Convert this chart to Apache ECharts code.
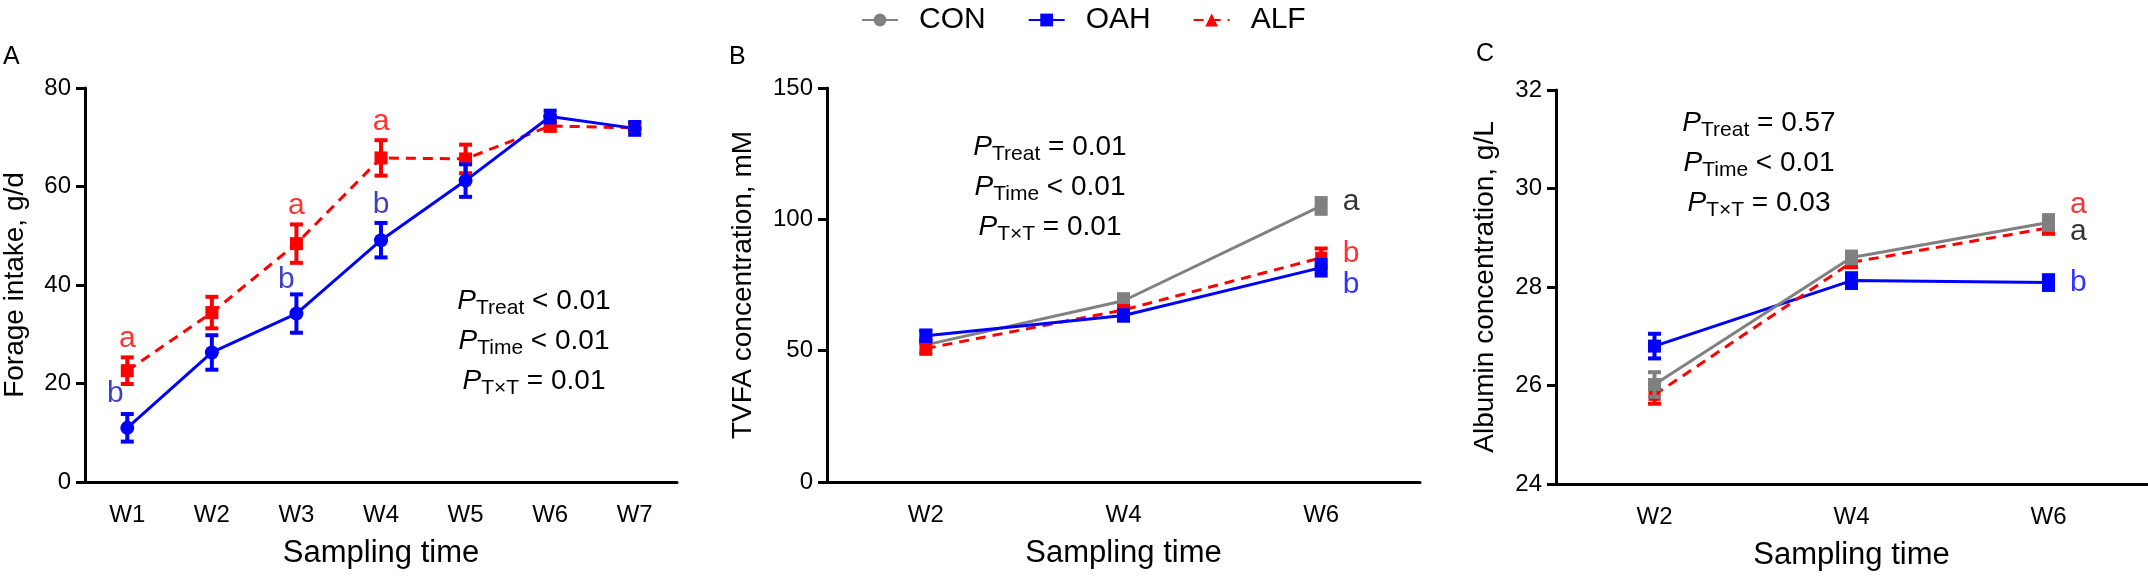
<!DOCTYPE html>
<html>
<head>
<meta charset="utf-8">
<title>Forage intake, TVFA and albumin</title>
<script src="https://cdn.jsdelivr.net/npm/echarts@6/dist/echarts.min.js"></script>
<style>
    html, body { margin: 0; padding: 0; background: #fff; }
    #chart { width: 2148px; height: 576px; }
</style>
</head>
<body>
<div id="chart"></div>
<script>
// panel A - forage intake, g/d
var weeksA = ['W1', 'W2', 'W3', 'W4', 'W5', 'W6', 'W7'];
var oahA = [11.0, 26.3, 34.2, 49.1, 61.2, 74.2, 71.8];
var oahAErr = [2.8, 3.5, 3.9, 3.5, 3.3, 1.2, 1.3];
var alfA = [22.6, 34.4, 48.4, 65.8, 65.6, 72.3, 71.9];
var alfAErr = [2.7, 3.2, 3.9, 3.6, 2.9, 1.0, 1.0];
var oahALetters = ['b', '', 'b', 'b', '', '', ''];
var alfALetters = ['a', '', 'a', 'a', '', '', ''];

// panels B and C share the sampling weeks
var weeksBC = ['W2', 'W4', 'W6'];

// panel B - TVFA concentration, mM
var conB = [52.2, 69.0, 105.1];
var conBErr = [2.5, 2.5, 3.0];
var oahB = [55.7, 63.4, 81.6];
var oahBErr = [2.0, 2.0, 3.0];
var alfB = [50.8, 65.5, 85.4];
var alfBErr = [2.0, 1.5, 3.5];
var conBLetters = ['', '', 'a'];
var oahBLetters = ['', '', 'b'];
var alfBLetters = ['', '', 'b'];

// panel C - albumin concentration, g/L
var conC = [26.02, 28.6, 29.31];
var conCErr = [0.25, 0.12, 0.15];
var oahC = [26.8, 28.13, 28.09];
var oahCErr = [0.25, 0.15, 0.15];
var alfC = [25.81, 28.5, 29.2];
var alfCErr = [0.18, 0.1, 0.12];
var conCLetters = ['', '', 'a'];
var oahCLetters = ['', '', 'b'];
var alfCLetters = ['', '', 'a'];

// P values
var pSubs = ['Treat', 'Time', 'T\u00d7T'];
var pA = ['< 0.01', '< 0.01', '= 0.01'];
var pB = ['= 0.01', '< 0.01', '= 0.01'];
var pC = ['= 0.57', '< 0.01', '= 0.03'];

var FONT = '"Liberation Sans", Arial, sans-serif';
var GRAY = '#808080', BLUE = '#0000ff', RED = '#ff0000';

var chart = echarts.init(document.getElementById('chart'));

function xAxis(idx, cats) {
    return {
        type: 'category', gridIndex: idx, data: cats, boundaryGap: true,
        name: 'Sampling time', nameLocation: 'middle', nameGap: 56,
        nameTextStyle: {fontFamily: FONT, fontSize: 31, color: '#000'},
        axisLine: {lineStyle: {color: '#000', width: 3}},
        axisTick: {alignWithLabel: true, length: 9, lineStyle: {width: 3, color: '#000'}},
        axisLabel: {fontFamily: FONT, fontSize: 24, color: '#000', margin: 21, interval: 0}
    };
}

function yAxis(idx, name, min, max, step, gap) {
    return {
        type: 'value', gridIndex: idx, min: min, max: max, interval: step,
        name: name, nameLocation: 'middle', nameGap: gap,
        nameTextStyle: {fontFamily: FONT, fontSize: 28, color: '#000'},
        axisLine: {show: true, lineStyle: {color: '#000', width: 3}},
        axisTick: {show: true, length: 9, lineStyle: {width: 3, color: '#000'}},
        axisLabel: {fontFamily: FONT, fontSize: 24, color: '#000', margin: 14},
        splitLine: {show: false}
    };
}

function lineSeries(name, idx, vals, color, symbol, size, dashed, z) {
    return {
        name: name, type: 'line', xAxisIndex: idx, yAxisIndex: idx,
        data: vals, symbol: symbol, symbolSize: size, z: z,
        itemStyle: {color: color},
        lineStyle: {color: color, width: 3, type: dashed ? [10, 7] : 'solid'},
        emphasis: {disabled: true}
    };
}

// vertical error bars drawn through the axis scale
function errSeries(idx, vals, errs, color, z) {
    return {
        type: 'custom', xAxisIndex: idx, yAxisIndex: idx, z: z, silent: true,
        data: vals.map(function (v, i) { return [i, v, errs[i]]; }),
        encode: {x: 0, y: 1},
        renderItem: function (params, api) {
            var x = api.value(0), m = api.value(1), e = api.value(2);
            var lo = api.coord([x, m - e]), hi = api.coord([x, m + e]);
            var w = 6.5;
            var st = {stroke: color, lineWidth: 4};
            return {type: 'group', children: [
                {type: 'line', shape: {x1: lo[0], y1: lo[1], x2: hi[0], y2: hi[1]}, style: st},
                {type: 'line', shape: {x1: hi[0] - w, y1: hi[1], x2: hi[0] + w, y2: hi[1]}, style: st},
                {type: 'line', shape: {x1: lo[0] - w, y1: lo[1], x2: lo[0] + w, y2: lo[1]}, style: st}
            ]};
        }
    };
}

// significance letters placed through the axis scale
function letterSeries(idx, vals, errs, letters, color, pos, shift) {
    var data = [];
    letters.forEach(function (l, i) {
        if (!l) return;
        var y = errs ? vals[i] + errs[i] : vals[i];
        data.push({value: [i, y], label: {offset: shift[i] || [0, 0]}, name: l});
    });
    return {
        type: 'scatter', xAxisIndex: idx, yAxisIndex: idx, symbolSize: 1, silent: true,
        itemStyle: {color: 'rgba(0,0,0,0)'}, z: 10,
        label: {
            show: true, position: pos, distance: pos === 'top' ? 3 : 21,
            formatter: function (p) { return p.name; },
            fontFamily: FONT, fontSize: 30, color: color
        },
        data: data
    };
}

function pBlock(x, y, vals) {
    var txt = vals.map(function (v, i) {
        return '{i|P}{s|' + pSubs[i] + '}{t| ' + v + '}';
    }).join('\n');
    return {
        type: 'text', x: x, y: y, z: 20,
        style: {
            text: txt, align: 'center', verticalAlign: 'middle',
            rich: {
                i: {fontFamily: FONT, fontSize: 28, fontStyle: 'italic', color: '#000', lineHeight: 40},
                s: {fontFamily: FONT, fontSize: 21, color: '#000', padding: [15, 0, 0, 0], lineHeight: 40},
                t: {fontFamily: FONT, fontSize: 28, color: '#000', lineHeight: 40}
            }
        }
    };
}

function panelLetter(x, y, t) {
    return {type: 'text', x: x, y: y, style: {text: t, fontFamily: FONT, fontSize: 25, fill: '#000', verticalAlign: 'middle'}};
}

var option = {
    animation: false,
    backgroundColor: '#fff',
    legend: {
        data: ['CON', 'OAH', 'ALF'], left: 856, top: 0,
        itemWidth: 36, itemHeight: 16, itemGap: 42,
        textStyle: {fontFamily: FONT, fontSize: 30, color: '#000', padding: [0, 0, 0, 16]}
    },
    grid: [
        {left: 85, right: 1471, top: 88, bottom: 94},
        {left: 827, right: 728, top: 88, bottom: 94},
        {left: 1556, right: 1, top: 90, bottom: 92}
    ],
    xAxis: [xAxis(0, weeksA), xAxis(1, weeksBC), xAxis(2, weeksBC)],
    yAxis: [
        yAxis(0, 'Forage intake, g/d', 0, 80, 20, 56),
        yAxis(1, 'TVFA concentration, mM', 0, 150, 50, 70),
        yAxis(2, 'Albumin concentration, g/L', 24, 32, 2, 57)
    ],
    graphic: [
        panelLetter(3, 57, 'A'),
        panelLetter(729, 57, 'B'),
        panelLetter(1476, 54, 'C'),
        pBlock(534, 341, pA),
        pBlock(1050, 187, pB),
        pBlock(1759, 163, pC)
    ],
    series: [
        // legend keys
        lineSeries('CON', 1, [], GRAY, 'circle', 14, false, 1),
        lineSeries('OAH', 1, [], BLUE, 'rect', 14, false, 1),
        lineSeries('ALF', 1, [], RED, 'triangle', 14, true, 1),

        // A
        errSeries(0, alfA, alfAErr, RED, 2),
        lineSeries('ALF A', 0, alfA, RED, 'rect', 13, true, 3),
        errSeries(0, oahA, oahAErr, BLUE, 4),
        lineSeries('OAH A', 0, oahA, BLUE, 'circle', 14, false, 5),
        letterSeries(0, alfA, alfAErr, alfALetters, RED, 'top', {}),
        letterSeries(0, oahA, oahAErr, oahALetters, '#1010b8', 'top', {0: [-12, -2], 2: [-10, 4]}),

        // B
        errSeries(1, conB, conBErr, GRAY, 2),
        lineSeries('CON B', 1, conB, GRAY, 'rect', 13, false, 3),
        errSeries(1, alfB, alfBErr, RED, 4),
        lineSeries('ALF B', 1, alfB, RED, 'rect', 12, true, 5),
        errSeries(1, oahB, oahBErr, BLUE, 6),
        lineSeries('OAH B', 1, oahB, BLUE, 'rect', 13, false, 7),
        letterSeries(1, conB, null, conBLetters, '#000', 'right', {2: [0, -4]}),
        letterSeries(1, alfB, null, alfBLetters, RED, 'right', {2: [0, -4]}),
        letterSeries(1, oahB, null, oahBLetters, BLUE, 'right', {2: [0, 17]}),

        // C
        errSeries(2, oahC, oahCErr, BLUE, 2),
        lineSeries('OAH C', 2, oahC, BLUE, 'rect', 13, false, 3),
        errSeries(2, alfC, alfCErr, RED, 4),
        lineSeries('ALF C', 2, alfC, RED, 'rect', 12, true, 5),
        errSeries(2, conC, conCErr, GRAY, 6),
        lineSeries('CON C', 2, conC, GRAY, 'rect', 13, false, 7),
        letterSeries(2, conC, null, conCLetters, '#000', 'right', {2: [0, 9]}),
        letterSeries(2, alfC, null, alfCLetters, RED, 'right', {2: [0, -23]}),
        letterSeries(2, oahC, null, oahCLetters, BLUE, 'right', {2: [0, 0]})
    ]
};

chart.setOption(option);
</script>
</body>
</html>
